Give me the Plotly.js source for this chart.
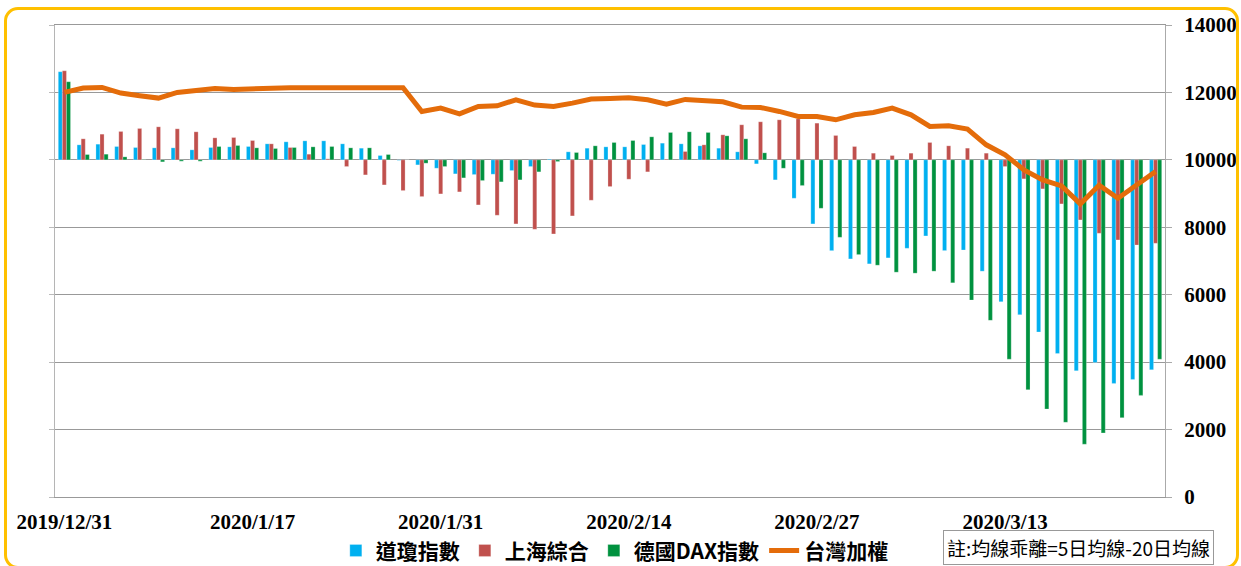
<!DOCTYPE html>
<html>
<head>
<meta charset="utf-8">
<script src="https://cdn.plot.ly/plotly-3.0.1.min.js"></script>
<style>
  html, body { margin: 0; padding: 0; background: #fff; }
  #wrap { position: relative; width: 1241px; height: 566px; overflow: hidden; }
  #chart { position: absolute; left: 0; top: 0; width: 1241px; height: 566px; }
  #frame { position: absolute; left: 4px; top: 7px; width: 1229px; height: 556px;
           border: 3px solid #FFC000; border-radius: 14px; pointer-events: none; }
</style>
</head>
<body>
<div id="wrap">
  <div id="chart"></div>
  <div id="frame"></div>
</div>
<script>
// Category index (trading-day sequence) and tick labels
const tickIndex = [0, 10, 20, 30, 40, 50];
const tickLabels = ['2019/12/31', '2020/1/17', '2020/1/31', '2020/2/14', '2020/2/27', '2020/3/13'];

// 均線乖離 (5日均線 - 20日均線)
const dow = [2614, 445, 465, 396, 366, 356, 356, 297, 366, 386,
             396, 475, 535, 564, 564, 475, 346, 129, -15, -149,
             -248, -416, -436, -426, -317, -198, 20, 238, 346, 386,
             386, 455, 495, 475, 416, 346, 238, -119, -594, -1139,
             -1900, -2693, -2938, -3085, -2908, -2623, -2257, -2691, -2673, -3302,
             -4208, -4592, -5105, -5745, -6257, -6011, -6631, -6513, -6227];
const shanghai = [2643, 624, 762, 842, 931, 980, 921, 832, 653, 663,
                  574, 475, 366, 168, 30, -198, -446, -743, -911, -1089,
                  -1010, -950, -1337, -1643, -1900, -2059, -2198, -1663, -1198, -792,
                  -574, -356, 20, 248, 446, 743, 1040, 1129, 1188, 1218,
                  1089, 723, 396, 198, 129, 198, 515, 416, 347, 198,
                  -198, -564, -861, -1307, -1782, -2178, -2376, -2525, -2475];
const dax = [2317, 158, 168, 89, 10, -59, -40, -40, 396, 426,
             356, 337, 366, 386, 396, 356, 356, 158, 0, -99,
             -198, -535, -614, -653, -594, -356, -50, 218, 416, 515,
             574, 683, 812, 832, 812, 713, 624, 208, -248, -762,
             -1436, -2297, -2810, -3125, -3332, -3361, -3302, -3647, -4159, -4760,
             -5912, -6818, -7390, -7784, -8434, -8099, -7646, -6986, -5912];
// 台灣加權 index level
const taiex = [12000, 12129, 12148, 11980, 11901, 11832, 12000, 12059, 12119, 12089,
               12109, 12138, 12138, 12138, 12138, 12138, 12138, 12138, 12138, 11436,
               11535, 11366, 11584, 11604, 11782, 11624, 11584, 11683, 11802, 11822,
               11841, 11782, 11653, 11792, 11762, 11723, 11564, 11554, 11436, 11287,
               11287, 11188, 11337, 11406, 11535, 11337, 10990, 11010, 10911, 10446,
               10149, 9703, 9406, 9228, 8693, 9248, 8862, 9257, 9653];

const seriesNames = ['道瓊指數', '上海綜合', '德國DAX指數', '台灣加權'];
const note = '註:均線乖離=5日均線-20日均線';

const idx = taiex.map((_, i) => i);

const cjkFont = { family: '"Noto Sans CJK TC", "Noto Sans CJK SC", sans-serif', size: 21, color: '#000', weight: 700 };
const numFont = { family: '"Liberation Serif", "DejaVu Serif", serif', size: 21, color: '#000', weight: 700 };

const barLine = { color: 'rgba(255,255,255,0.5)', width: 0.5 };
const traces = [
  { type: 'bar', name: seriesNames[0], x: idx, y: dow, yaxis: 'y',
    marker: { color: '#00B0F0', line: barLine } },
  { type: 'bar', name: seriesNames[1], x: idx, y: shanghai, yaxis: 'y',
    marker: { color: '#C0504D', line: barLine } },
  { type: 'bar', name: seriesNames[2], x: idx, y: dax, yaxis: 'y',
    marker: { color: '#00923F', line: barLine } },
  { type: 'scatter', mode: 'lines', name: seriesNames[3], x: idx, y: taiex, yaxis: 'y2',
    line: { color: '#E46C0A', width: 5 } }
];

const layout = {
  width: 1241, height: 566,
  margin: { l: 55, r: 76, t: 25, b: 69, autoexpand: false },
  paper_bgcolor: '#fff', plot_bgcolor: '#fff',
  barmode: 'group', bargap: 0.35, bargroupgap: 0,
  showlegend: true,
  xaxis: {
    range: [-0.5, 58.5], tickmode: 'array', tickvals: tickIndex, ticktext: tickLabels,
    ticks: '', showgrid: false, zeroline: false,
    showline: true, linecolor: '#999', linewidth: 1, mirror: true,
    tickfont: numFont, ticklabelstandoff: 6, automargin: false
  },
  yaxis: {
    range: [-10000, 4000], tickmode: 'linear', tick0: -10000, dtick: 2000,
    showticklabels: false, ticks: 'outside', ticklen: 5, tickcolor: '#bbb',
    showline: true, linecolor: '#b5b5b5', linewidth: 1.5,
    showgrid: false, zeroline: false, automargin: false
  },
  yaxis2: {
    overlaying: 'y', side: 'right',
    range: [0, 14000], tickmode: 'linear', tick0: 0, dtick: 2000, tickformat: 'd',
    showgrid: true, gridcolor: '#999', gridwidth: 1, zeroline: false,
    ticks: 'outside', ticklen: 6, tickcolor: '#aaa',
    showline: true, linecolor: '#aaa', linewidth: 1,
    tickfont: numFont, ticklabelstandoff: 8, automargin: false
  },
  legend: {
    orientation: 'h', x: 0.253, y: -0.114, xanchor: 'left', yanchor: 'middle',
    font: cjkFont, bgcolor: 'rgba(0,0,0,0)', traceorder: 'normal'
  },
  annotations: [{
    xref: 'paper', yref: 'paper', x: 0.9225, y: -0.108, xanchor: 'center', yanchor: 'middle',
    text: note, showarrow: false,
    font: { family: '"Noto Sans CJK TC", sans-serif', size: 19, color: '#000' },
    bordercolor: '#999', borderwidth: 1, borderpad: 3, bgcolor: '#fff'
  }]
};

Plotly.newPlot('chart', traces, layout, { displayModeBar: false, staticPlot: true });
</script>
</body>
</html>
